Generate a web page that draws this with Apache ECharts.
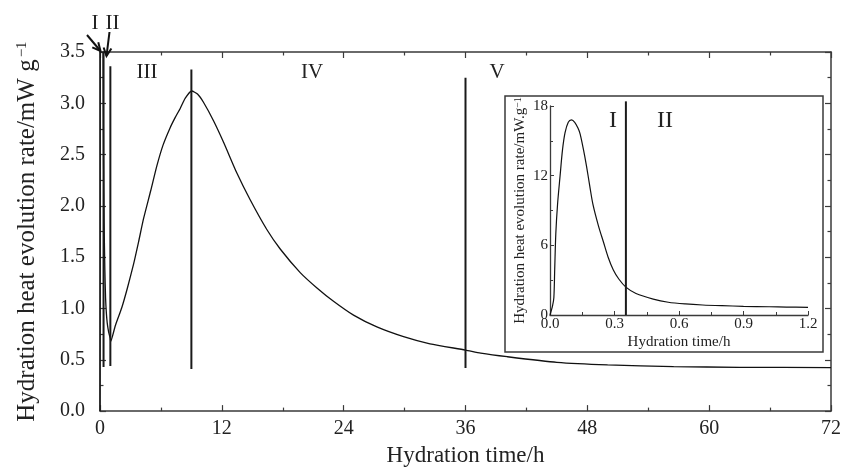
<!DOCTYPE html>
<html>
<head>
<meta charset="utf-8">
<script src="https://cdn.jsdelivr.net/npm/echarts@6/dist/echarts.min.js"></script>
<style>
html,body{margin:0;padding:0;background:#fff;}
#chart{width:856px;height:472px;}
</style>
</head>
<body>
<div id="chart"></div>
<script>
// ---- data ----
// early hydration (inset, 0–1.2 h)
const insetTime = [0, 0.012, 0.018, 0.022, 0.027, 0.035, 0.047, 0.058, 0.07, 0.085, 0.1, 0.115, 0.13, 0.14, 0.155, 0.17, 0.185, 0.2, 0.225, 0.25, 0.27, 0.294, 0.32, 0.353, 0.4, 0.48, 0.55, 0.63, 0.71, 0.8, 0.9, 1.02, 1.1, 1.2];
const insetRate = [0, 0.8, 1.5, 4.0, 7.0, 9.5, 12.0, 14.2, 15.7, 16.6, 16.8, 16.6, 16.1, 15.6, 14.3, 12.8, 11.1, 9.5, 7.7, 6.2, 5.0, 3.9, 3.1, 2.4, 1.85, 1.37, 1.1, 0.95, 0.86, 0.8, 0.75, 0.71, 0.68, 0.66];
// later hydration (main plot, after 1 h)
const mainTime = [1.05, 1.5, 2.15, 2.7, 3.3, 3.8, 4.3, 5.0, 5.6, 6.2, 6.9, 7.4, 7.9, 8.4, 9.04, 9.6, 10.19, 11.18, 12.17, 13.48, 14.79, 16.43, 17.75, 19.72, 21.37, 23.0, 24.97, 27.27, 29.9, 32.5, 36.0, 37.5, 40.1, 45.0, 50.0, 56.5, 63.0, 72.0];
const mainRate = [0.68, 0.83, 1.01, 1.2, 1.43, 1.65, 1.88, 2.15, 2.39, 2.59, 2.76, 2.86, 2.95, 3.05, 3.12, 3.09, 3.01, 2.83, 2.62, 2.32, 2.06, 1.77, 1.58, 1.35, 1.2, 1.07, 0.935, 0.82, 0.725, 0.655, 0.595, 0.565, 0.53, 0.475, 0.45, 0.434, 0.427, 0.424];
// stage boundaries in main plot
const boundaryTime = [0.35, 1.02, 9.0, 36.0];
const boundaryTop = [3.5, 3.36, 3.33, 3.25];
const boundaryBottom = [0.43, 0.44, 0.41, 0.42];
// inset boundary
const insetBoundaryTime = 0.353;
const insetBoundaryRange = [0, 18.4];
// axes ticks
const xTicks = [0, 12, 24, 36, 48, 60, 72];
const yTicks = [0, 0.5, 1.0, 1.5, 2.0, 2.5, 3.0, 3.5];
const insetXTicks = [0, 0.3, 0.6, 0.9, 1.2];
const insetYTicks = [0, 6, 12, 18];
// stage labels
const stageLabels = ['I', 'II', 'III', 'IV', 'V'];
const insetStageLabels = ['I', 'II'];

// ---- build ----
const FONT = 'Liberation Serif';
const TXT = '#222';
const AX = '#3a3a3a';

const mainData = [];
insetTime.forEach((t, i) => { if (t <= 1.02) mainData.push([t, insetRate[i]]); });
mainTime.forEach((t, i) => mainData.push([t, mainRate[i]]));
const insetData = insetTime.map((t, i) => [t, insetRate[i]]);

function axisCommon(extra) {
  return Object.assign({
    type: 'value',
    axisLine: { show: true, onZero: false, lineStyle: { color: AX, width: 1.5 } },
    axisTick: { show: true, inside: true, length: 6, lineStyle: { color: AX, width: 1.2 } },
    minorTick: { show: true, splitNumber: 2, length: 3.5, lineStyle: { color: AX, width: 1.2 } },
    splitLine: { show: false },
    axisLabel: { color: TXT, fontFamily: FONT, fontSize: 20 }
  }, extra);
}

const series = [];
series.push({
  type: 'line', xAxisIndex: 0, yAxisIndex: 0, data: mainData, showSymbol: false, clip: true,
  smooth: 0.2, lineStyle: { color: '#111', width: 1.3 }, z: 3
});
boundaryTime.forEach((t, i) => {
  series.push({
    type: 'line', xAxisIndex: 0, yAxisIndex: 0, showSymbol: false, clip: false,
    data: [[t, boundaryBottom[i]], [t, boundaryTop[i]]],
    lineStyle: { color: '#1a1a1a', width: 2 }, z: 4
  });
});
series.push({
  type: 'line', xAxisIndex: 2, yAxisIndex: 2, data: insetData, showSymbol: false, clip: false,
  smooth: 0.3, lineStyle: { color: '#111', width: 1.2 }, z: 3
});
series.push({
  type: 'line', xAxisIndex: 2, yAxisIndex: 2, showSymbol: false, clip: false,
  data: [[insetBoundaryTime, insetBoundaryRange[0]], [insetBoundaryTime, insetBoundaryRange[1]]],
  lineStyle: { color: '#1a1a1a', width: 2 }, z: 4
});

// arrows (annotation layout)
const arrows = [
  { from: [87, 35], to: [100.5, 51] },
  { from: [109.5, 32], to: [106.5, 56] }
];
const graphics = [];
arrows.forEach(a => {
  const dx = a.to[0] - a.from[0], dy = a.to[1] - a.from[1];
  const L = Math.hypot(dx, dy), ux = dx / L, uy = dy / L;
  const hl = 9, ang = 0.45;
  const h1 = [a.to[0] - hl * (ux * Math.cos(ang) - uy * Math.sin(ang)), a.to[1] - hl * (uy * Math.cos(ang) + ux * Math.sin(ang))];
  const h2 = [a.to[0] - hl * (ux * Math.cos(-ang) - uy * Math.sin(-ang)), a.to[1] - hl * (uy * Math.cos(-ang) + ux * Math.sin(-ang))];
  graphics.push({ type: 'line', shape: { x1: a.from[0], y1: a.from[1], x2: a.to[0], y2: a.to[1] }, style: { stroke: '#111', lineWidth: 2 }, z: 10 });
  graphics.push({ type: 'polyline', shape: { points: [h1, a.to, h2] }, style: { stroke: '#111', lineWidth: 2, fill: null }, z: 10 });
});
const labelPos = [[95, 23], [112.5, 23], [147, 72], [312, 72], [497, 72]];
stageLabels.forEach((s, i) => {
  graphics.push({ type: 'text', x: labelPos[i][0], y: labelPos[i][1], z: 10,
    style: { text: s, font: '21px "Liberation Serif"', fill: TXT, align: 'center', verticalAlign: 'middle' } });
});
const insetLabelPos = [[613, 121], [665, 121]];
insetStageLabels.forEach((s, i) => {
  graphics.push({ type: 'text', x: insetLabelPos[i][0], y: insetLabelPos[i][1], z: 10,
    style: { text: s, font: '24px "Liberation Serif"', fill: TXT, align: 'center', verticalAlign: 'middle' } });
});
graphics.push({ type: 'rect', shape: { x: 505, y: 96, width: 318, height: 256 }, style: { fill: null, stroke: AX, lineWidth: 1.5 }, z: 1 });

const option = {
  backgroundColor: '#fff',
  animation: false,
  grid: [
    { left: 100, right: 25, top: 52, bottom: 57 },
    { left: 550, width: 258, top: 106, height: 209 }
  ],
  xAxis: [
    axisCommon({ gridIndex: 0, position: 'bottom', min: xTicks[0], max: xTicks[xTicks.length - 1], interval: 12,
      axisLabel: { color: TXT, fontFamily: FONT, fontSize: 20, margin: 8, formatter: v => String(v) },
      name: 'Hydration time/h', nameLocation: 'middle', nameGap: 32,
      nameTextStyle: { color: TXT, fontFamily: FONT, fontSize: 23 } }),
    axisCommon({ gridIndex: 0, position: 'top', min: 0, max: 72, interval: 12, axisLabel: { show: false } }),
    axisCommon({ gridIndex: 1, position: 'bottom', min: insetXTicks[0], max: insetXTicks[insetXTicks.length - 1], interval: 0.3,
      axisLine: { show: true, onZero: false, lineStyle: { color: AX, width: 1.3 } },
      axisTick: { show: true, inside: true, length: 4, lineStyle: { color: AX, width: 1 } },
      minorTick: { show: true, splitNumber: 2, length: 3, lineStyle: { color: AX, width: 1 } },
      axisLabel: { color: TXT, fontFamily: FONT, fontSize: 15, margin: 2, formatter: v => v.toFixed(1) },
      name: 'Hydration time/h', nameLocation: 'middle', nameGap: 20,
      nameTextStyle: { color: TXT, fontFamily: FONT, fontSize: 15 } })
  ],
  yAxis: [
    axisCommon({ gridIndex: 0, position: 'left', min: yTicks[0], max: yTicks[yTicks.length - 1], interval: 0.5,
      axisLabel: { color: TXT, fontFamily: FONT, fontSize: 20, margin: 15, formatter: v => v.toFixed(1) },
      name: 'Hydration heat evolution rate/mW g{sup|\u22121}', nameLocation: 'middle', nameGap: 60,
      nameTextStyle: { color: TXT, fontFamily: FONT, fontSize: 25,
        rich: { sup: { fontFamily: FONT, fontSize: 15, color: TXT, verticalAlign: 'top', padding: [0, 0, 0, 2] } } } }),
    axisCommon({ gridIndex: 0, position: 'right', min: 0, max: 3.5, interval: 0.5, axisLabel: { show: false } }),
    axisCommon({ gridIndex: 1, position: 'left', min: insetYTicks[0], max: insetYTicks[insetYTicks.length - 1], interval: 6,
      axisLine: { show: true, onZero: false, lineStyle: { color: AX, width: 1.3 } },
      axisTick: { show: true, inside: true, length: 4, lineStyle: { color: AX, width: 1 } },
      minorTick: { show: true, splitNumber: 2, length: 3, lineStyle: { color: AX, width: 1 } },
      axisLabel: { color: TXT, fontFamily: FONT, fontSize: 15, margin: 2, formatter: v => String(v) },
      name: 'Hydration heat evolution rate/mW.g{sup|\u22121}', nameLocation: 'middle', nameGap: 22,
      nameTextStyle: { color: TXT, fontFamily: FONT, fontSize: 15,
        rich: { sup: { fontFamily: FONT, fontSize: 10, color: TXT, verticalAlign: 'top' } } } })
  ],
  series: series,
  graphic: graphics
};

const chart = echarts.init(document.getElementById('chart'), null, { renderer: 'canvas' });
chart.setOption(option);
</script>
</body>
</html>
